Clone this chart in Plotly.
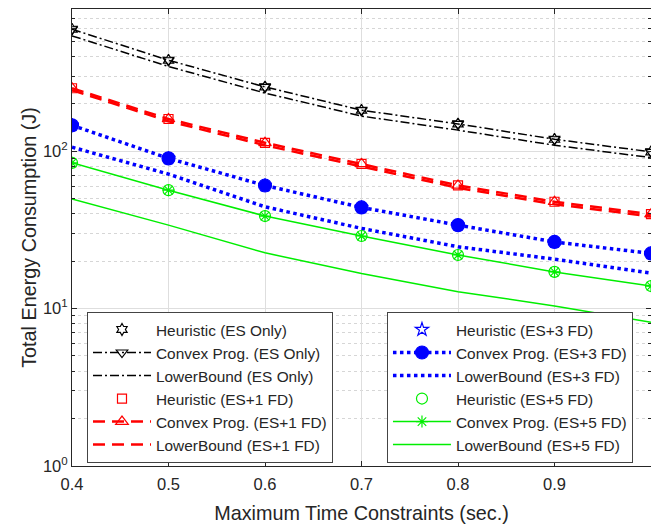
import plotly.graph_objects as go

x_vals = [0.4, 0.5, 0.6, 0.7, 0.8, 0.9, 1.0]

heur_es_only = [595, 378, 256, 182, 149, 119, 99]
convex_es_only = [595, 378, 256, 182, 149, 119, 99]
lower_es_only = [540, 345, 234, 167, 136, 109, 91]

heur_es1 = [251, 160, 113, 83, 60.6, 47.7, 39.8]
convex_es1 = [251, 160, 113, 83, 60.6, 47.7, 39.8]
lower_es1 = [244, 155, 109, 80, 58.5, 46, 38.5]

heur_es3 = [146, 90, 60.5, 43.9, 33.9, 26.5, 22.4]
convex_es3 = [146, 90, 60.5, 43.9, 33.9, 26.5, 22.4]
lower_es3 = [106, 71.5, 44.3, 32.3, 24.7, 20.6, 16.8]

heur_es5 = [84.3, 56.5, 38.7, 28.9, 21.9, 17.1, 13.9]
convex_es5 = [84.3, 56.5, 38.7, 28.9, 21.9, 17.1, 13.9]
lower_es5 = [49.6, 33.9, 22.6, 16.7, 12.8, 10.4, 8.2]

x_ticks = [0.4, 0.5, 0.6, 0.7, 0.8, 0.9, 1.0]
x_tick_labels = ["0.4", "0.5", "0.6", "0.7", "0.8", "0.9", "1"]
y_ticks = [1, 10, 100]
y_tick_labels = ["10<sup>0</sup>", "10<sup>1</sup>", "10<sup>2</sup>"]
y_minor_ticks = [m * d for d in (1, 10, 100) for m in range(2, 10)]

BLACK = "#000000"
RED = "#ff0000"
BLUE = "#0000ff"
GREEN = "#00ee00"

fig = go.Figure()

def add(name, y, mode, color, legend, group, dash=None, width=1.5, symbol=None, msize=10, mfill=None, mline=1.2):
    kw = dict(x=x_vals, y=y, name=name, mode=mode, legend=legend, legendgroup=group)
    if "lines" in mode:
        kw["line"] = dict(color=color, width=width, dash=dash)
    if "markers" in mode:
        kw["marker"] = dict(symbol=symbol, size=msize, color=mfill if mfill else color,
                            line=dict(color=color, width=mline))
    fig.add_trace(go.Scatter(**kw))

add("Heuristic (ES Only)", heur_es_only, "markers", BLACK, "legend", "a1", symbol="hexagram-open", msize=9)
add("Convex Prog. (ES Only)", convex_es_only, "lines+markers", BLACK, "legend", "a2", dash="9px,3px,2px,3px", width=1.5, symbol="triangle-down-open", msize=10)
add("LowerBound (ES Only)", lower_es_only, "lines", BLACK, "legend", "a3", dash="9px,3px,2px,3px", width=1.5)
add("Heuristic (ES+1 FD)", heur_es1, "markers", RED, "legend", "a4", symbol="square-open", msize=9)
add("Convex Prog. (ES+1 FD)", convex_es1, "lines+markers", RED, "legend", "a5", dash="12px,7px", width=2.5, symbol="triangle-up-open", msize=11)
add("LowerBound (ES+1 FD)", lower_es1, "lines", RED, "legend", "a6", dash="12px,7px", width=2.5)

add("Heuristic (ES+3 FD)", heur_es3, "markers", BLUE, "legend2", "b1", symbol="star-open", msize=10)
add("Convex Prog. (ES+3 FD)", convex_es3, "lines+markers", BLUE, "legend2", "b2", dash="dot", width=3.5, symbol="circle", msize=13)
add("LowerBound (ES+3 FD)", lower_es3, "lines", BLUE, "legend2", "b3", dash="dot", width=3.5)
add("Heuristic (ES+5 FD)", heur_es5, "markers", GREEN, "legend2", "b4", symbol="circle-open", msize=11)
add("Convex Prog. (ES+5 FD)", convex_es5, "lines+markers", GREEN, "legend2", "b5", width=1.5, symbol="asterisk-open", msize=10)
add("LowerBound (ES+5 FD)", lower_es5, "lines", GREEN, "legend2", "b6", width=1.5)

FONT = "Liberation Sans, Arial, sans-serif"
AXC = "#262626"
GRID = "#dedede"

legend_common = dict(
    bgcolor="white", bordercolor="#444444", borderwidth=1,
    font=dict(family=FONT, size=15.4, color="#262626"),
    yanchor="bottom", xanchor="left", y=0.0066,
    tracegroupgap=0, itemwidth=58, traceorder="normal",
)

fig.update_layout(
    width=651, height=524,
    margin=dict(l=72, r=0, t=9, b=58),
    paper_bgcolor="white", plot_bgcolor="white",
    font=dict(family=FONT, color=AXC),
    showlegend=True,
    legend=dict(x=0.0259, **legend_common),
    legend2=dict(x=0.544, **legend_common),
    xaxis=dict(
        range=[0.4, 1.0], tickmode="array", tickvals=x_ticks, ticktext=x_tick_labels,
        showgrid=True, gridcolor=GRID, gridwidth=1, automargin=False,
        showline=True, linecolor=AXC, linewidth=1, mirror="ticks",
        ticks="inside", ticklen=5, tickcolor=AXC, ticklabelstandoff=3,
        tickfont=dict(family=FONT, size=16.5, color=AXC),
        title=dict(text="Maximum Time Constraints (sec.)", font=dict(family=FONT, size=19.8, color=AXC), standoff=15),
        zeroline=False,
    ),
    yaxis=dict(
        type="log", range=[0, 2.903], tickmode="array", tickvals=y_ticks, ticktext=y_tick_labels,
        showgrid=True, gridcolor=GRID, gridwidth=1, automargin=False,
        showline=True, linecolor=AXC, linewidth=1, mirror="ticks",
        ticks="inside", ticklen=5, tickcolor=AXC,
        tickfont=dict(family=FONT, size=16.5, color=AXC),
        minor=dict(tickmode="array", tickvals=y_minor_ticks, ticks="inside", ticklen=3, tickcolor=AXC,
                   showgrid=True, gridcolor="#d6d6d6", griddash="dot", gridwidth=1),
        title=dict(text="Total Energy Consumption (J)", font=dict(family=FONT, size=19.8, color=AXC), standoff=0),
        zeroline=False,
    ),
)

fig.write_html(
    "out.html",
    config={"displayModeBar": False},
    post_script="document.body.style.margin='0px'; document.body.style.overflow='hidden';",
)
